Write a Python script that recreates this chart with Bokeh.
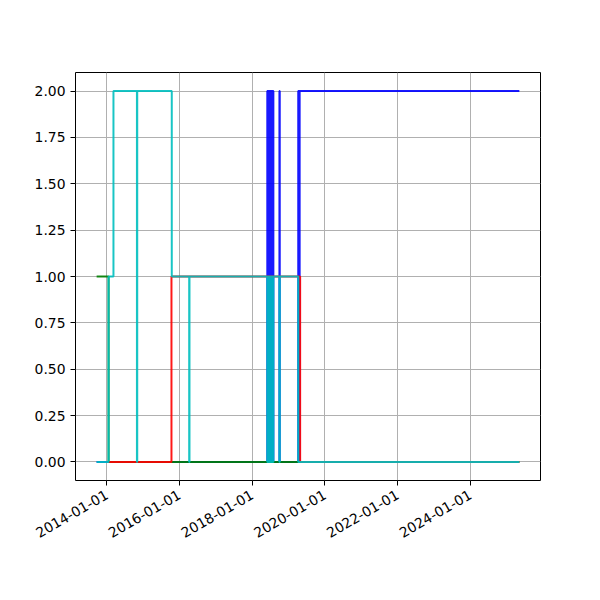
import math
from datetime import datetime
from bokeh.plotting import figure
from bokeh.models import Range1d, FixedTicker, DatetimeTickFormatter, NumeralTickFormatter
from bokeh.embed import file_html
from bokeh.resources import INLINE

# ---- data: change points of each step series (value holds until next date) ----
blue_dates = ["2013-09-20", "2018-06-01", "2018-06-07", "2018-06-12", "2018-06-18",
              "2018-06-23", "2018-06-29", "2018-07-04", "2018-07-10", "2018-07-15",
              "2018-07-21", "2018-07-26", "2018-08-01", "2018-10-01", "2018-10-04",
              "2019-04-08", "2019-04-16", "2019-04-22", "2025-05-08"]
blue_vals = [0, 2, 0, 2, 0, 2, 0, 2, 0, 2, 0, 2, 0, 2, 0, 2, 0, 2, 2]

green_dates = ["2013-09-20", "2014-01-18", "2025-05-08"]
green_vals = [1, 0, 0]

red_dates = ["2014-01-18", "2015-10-12", "2019-04-27", "2025-05-08"]
red_vals = [0, 1, 0, 0]

cyan_dates = ["2013-09-20", "2014-01-18", "2014-03-08", "2014-10-30", "2014-11-02",
              "2015-10-15", "2016-04-07", "2016-04-10", "2018-06-01", "2018-06-07",
              "2018-06-12", "2018-06-18", "2018-06-23", "2018-06-29", "2018-07-04",
              "2018-07-10", "2018-07-15", "2018-07-21", "2018-07-26", "2018-08-01",
              "2018-10-01", "2018-10-04", "2019-04-08", "2025-05-08"]
cyan_vals = [0, 1, 2, 0, 2, 1, 0, 1, 0, 1, 0, 1, 0, 1, 0, 1, 0, 1, 0, 1, 0, 1, 0, 0]

tick_labels = ["2014-01-01", "2016-01-01", "2018-01-01", "2020-01-01", "2022-01-01", "2024-01-01"]
y_ticks = [0.0, 0.25, 0.5, 0.75, 1.0, 1.25, 1.5, 1.75, 2.0]

EPOCH = datetime(1970, 1, 1)


def ms(s):
    return (datetime.strptime(s, "%Y-%m-%d") - EPOCH).total_seconds() * 1000.0


series = [
    (blue_dates, blue_vals, "#0000ff"),
    (green_dates, green_vals, "#008000"),
    (red_dates, red_vals, "#ff0000"),
    (cyan_dates, cyan_vals, "#00bfbf"),
]

all_x = [ms(s) for ds, _, _ in series for s in ds]
xmin, xmax = min(all_x), max(all_x)
span = xmax - xmin

p = figure(width=592, height=592, x_axis_type="datetime", output_backend="svg",
           toolbar_location=None,
           x_range=Range1d(xmin - 0.05 * span, xmax + 0.05 * span),
           y_range=Range1d(-0.1, 2.1),
           min_border_left=75, min_border_right=52, min_border_top=72, min_border_bottom=112)

for ds, vs, col in series:
    p.step([ms(s) for s in ds], vs, mode="after", line_color=col, line_width=2, line_alpha=0.9)

p.xaxis.ticker = FixedTicker(ticks=[ms(t) for t in tick_labels])
fmt = "%Y-%m-%d"
p.xaxis.formatter = DatetimeTickFormatter(years=fmt, months=fmt, days=fmt, hours=fmt,
                                          hourmin=fmt, minutes=fmt, minsec=fmt, seconds=fmt,
                                          milliseconds=fmt, microseconds=fmt)
p.xaxis.major_label_orientation = math.pi / 6
p.yaxis.ticker = FixedTicker(ticks=y_ticks)
p.yaxis.formatter = NumeralTickFormatter(format="0.00")

for ax in (p.xaxis, p.yaxis):
    ax.axis_line_color = None
    ax.major_tick_out = 5
    ax.major_tick_in = 0
    ax.minor_tick_line_color = None
    ax.major_tick_line_color = "black"
    ax.major_label_text_font = "DejaVu Sans"
    ax.major_label_text_font_size = "13.9px"
    ax.major_label_text_color = "black"
    ax.major_label_standoff = 5
p.xaxis.major_label_standoff = 8

p.grid.grid_line_color = "#b0b0b0"
p.grid.grid_line_width = 1
p.outline_line_color = "black"
p.outline_line_width = 1
p.outline_line_alpha = 1

open("out.html", "w").write(file_html(p, INLINE))
